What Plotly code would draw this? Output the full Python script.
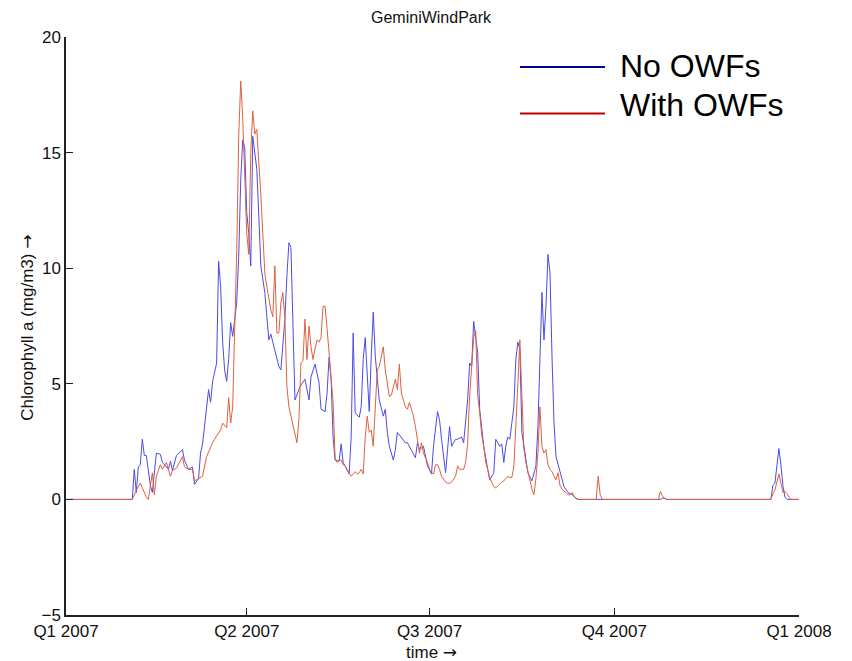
import pandas as pd
import plotly.graph_objects as go

# ---- data (day offset from 2007-01-01, chlorophyll a in mg/m3) ----
blue_days = [
    0, 33, 34, 35, 36, 37, 38, 39, 40, 41,
    42, 43, 45, 47, 48, 51, 52, 53, 55, 58,
    59, 61, 63, 64, 66, 67, 68, 71, 72, 73,
    75, 76, 77, 78, 79, 80, 81, 82, 83, 85,
    86, 87, 88, 89, 90, 91, 92, 93, 94, 95,
    96, 97, 99, 101, 102, 104, 106, 107, 109, 110,
    111, 112, 113, 114, 116, 117, 119, 121, 122, 124,
    126, 127, 129, 130, 131, 132, 133, 134, 136, 137,
    138, 140, 141, 142, 143, 144, 146, 147, 148, 149,
    151, 152, 153, 154, 155, 156, 158, 159, 160, 161,
    163, 164, 165, 167, 169, 170, 172, 174, 175, 176,
    178, 179, 180, 182, 183, 185, 186, 187, 188, 189,
    190, 191, 192, 194, 195, 197, 198, 200, 201, 202,
    203, 204, 205, 206, 208, 210, 211, 213, 214, 216,
    217, 218, 219, 220, 221, 223, 224, 225, 226, 227,
    229, 230, 232, 234, 235, 236, 237, 238, 239, 240,
    241, 242, 243, 244, 246, 248, 250, 252, 254, 255,
    296, 297, 298, 299, 351, 352, 353, 354, 355, 356,
    357, 358, 359, 365]
no_owf = [
    0, 0, 1.3, 0.3, 1.4, 1.5, 2.6, 1.9, 1.9, 1.2,
    0.6, 0.3, 2.0, 1.95, 1.6, 1.3, 1.65, 1.25, 1.9, 2.15,
    1.7, 1.3, 1.4, 0.65, 0.9, 2.0, 2.4, 4.75, 4.2, 5.1,
    5.9, 10.3, 9.2, 6.8, 5.6, 5.1, 6.05, 7.65, 7.05, 8.5,
    10.5, 13.8, 15.55, 15.2, 12.4, 11.5, 10.1, 15.7, 15.0, 14.3,
    12.3, 10.1, 8.95, 6.9, 7.15, 6.5, 5.75, 5.6, 7.8, 9.65,
    11.1, 10.9, 7.05, 4.3, 4.75, 4.95, 5.2, 4.3, 5.3, 5.85,
    5.05, 3.9, 3.8, 4.6, 6.15, 5.2, 2.7, 1.7, 1.65, 2.4,
    1.6, 1.3, 1.1, 2.7, 7.2, 3.75, 3.55, 4.0, 6.05, 7.0,
    3.8, 6.2, 8.1, 6.2, 5.05, 4.3, 3.6, 3.9, 2.9, 2.3,
    1.7, 2.15, 2.9, 2.7, 2.45, 2.45, 2.1, 1.8, 2.45, 2.15,
    2.3, 1.85, 1.45, 1.1, 2.3, 3.8, 3.45, 2.6, 1.85, 1.15,
    2.15, 3.15, 2.3, 2.6, 2.6, 2.7, 2.45, 4.3, 5.9, 5.75,
    7.7, 6.9, 6.35, 3.9, 2.3, 1.3, 0.85, 1.15, 2.6, 2.3,
    2.4, 1.6, 2.3, 2.7, 2.6, 4.0, 6.05, 6.8, 6.5, 2.9,
    1.85, 1.15, 0.8, 1.45, 3.15, 6.0, 8.95, 6.9, 8.35, 10.6,
    9.8, 6.2, 3.3, 1.85, 1.15, 0.55, 0.3, 0.2, 0.05, 0,
    0, 0.05, 0.05, 0, 0, 0.6, 0.7, 1.6, 2.2, 1.5,
    0.6, 0.1, 0, 0]

red_days = [
    0, 33, 35, 37, 38, 40, 41, 43, 44, 45,
    47, 48, 50, 52, 53, 55, 58, 59, 61, 63,
    64, 66, 68, 70, 73, 75, 77, 78, 80, 81,
    82, 83, 84, 85, 86, 87, 88, 89, 90, 91,
    92, 93, 94, 95, 96, 97, 98, 99, 100, 101,
    102, 103, 104, 105, 106, 107, 108, 109, 110, 111,
    112, 113, 114, 115, 116, 117, 118, 119, 120, 121,
    122, 123, 124, 125, 126, 127, 128, 129, 130, 131,
    132, 133, 134, 135, 136, 137, 138, 139, 140, 141,
    142, 143, 144, 145, 146, 147, 148, 149, 150, 151,
    152, 153, 154, 155, 156, 157, 158, 159, 160, 161,
    162, 163, 164, 165, 166, 167, 168, 169, 170, 171,
    172, 173, 174, 175, 176, 177, 178, 179, 180, 181,
    182, 183, 184, 185, 186, 187, 188, 189, 190, 191,
    192, 193, 194, 195, 196, 197, 198, 199, 200, 201,
    202, 203, 204, 205, 206, 207, 208, 209, 210, 211,
    212, 213, 214, 215, 216, 217, 218, 219, 220, 221,
    222, 223, 224, 225, 226, 227, 228, 229, 230, 231,
    232, 233, 234, 235, 236, 237, 238, 239, 240, 241,
    242, 243, 244, 245, 246, 247, 248, 249, 250, 251,
    252, 253, 254, 255, 264, 265, 266, 267, 295, 296,
    297, 298, 299, 351, 352, 353, 354, 355, 356, 357,
    358, 359, 360, 361, 365]
with_owf = [
    0, 0, 0.4, 0.7, 0.5, 0.1, 0, 1.15, 0.2, 1.0,
    1.5, 1.3, 1.6, 1.0, 1.25, 1.35, 1.85, 1.4, 1.3, 1.3,
    0.8, 0.9, 1.0, 1.85, 2.45, 2.75, 3.0, 3.3, 3.1, 4.4,
    3.3, 4.0, 7.5, 10.7, 15.7, 18.1, 16.5, 13.5, 11.5, 10.6,
    15.0, 16.8, 15.8, 16.0, 14.8, 13.2, 11.5, 9.8, 9.2, 8.6,
    8.2, 7.9, 10.1, 7.2, 7.2, 8.5, 8.95, 7.8, 4.9, 4.0,
    3.6, 3.1, 2.7, 2.45, 3.45, 5.9, 6.0, 7.8, 6.05, 7.5,
    6.6, 6.05, 6.5, 6.9, 6.8, 7.0, 8.35, 8.35, 7.4, 6.4,
    5.2, 4.2, 1.8, 1.6, 1.7, 1.7, 1.5, 1.45, 1.3, 1.15,
    1.0, 1.1, 1.2, 1.1, 1.15, 1.3, 1.1, 2.7, 3.6, 2.9,
    3.0, 2.3, 3.75, 5.6, 5.75, 6.2, 6.6, 5.6, 4.9, 4.45,
    4.5, 4.9, 5.2, 4.75, 5.85, 4.6, 4.3, 4.0, 3.9, 4.2,
    3.9, 3.6, 3.15, 2.6, 2.0, 2.45, 2.0, 1.8, 1.6, 1.3,
    1.15, 1.1, 1.5, 1.5, 1.3, 1.0, 0.85, 0.75, 0.7, 0.7,
    0.75, 0.9, 1.0, 1.45, 1.3, 1.3, 1.3, 1.6, 2.4, 4.5,
    6.0, 7.0, 7.3, 4.5, 3.75, 2.8, 2.3, 1.6, 1.3, 0.9,
    0.75, 0.55, 0.5, 0.6, 0.7, 0.75, 0.8, 0.9, 1.0, 0.95,
    0.95, 1.4, 3.0, 5.0, 6.9, 4.5, 2.2, 1.6, 1.2, 0.75,
    0.45, 0.2, 0.9, 2.0, 4.0, 2.3, 2.0, 2.15, 1.5, 1.3,
    1.2, 1.0, 0.85, 1.15, 0.6, 0.45, 0.35, 0.3, 0.2, 0.2,
    0.3, 0.15, 0.03, 0, 0, 1.0, 0.2, 0, 0, 0.35,
    0.15, 0.05, 0, 0, 0.25, 0.4, 0.7, 1.1, 0.7, 0.3,
    0.35, 0.25, 0.1, 0, 0]

tick_dates = ["2007-01-01", "2007-04-01", "2007-07-01", "2007-10-01", "2008-01-01"]
tick_labels = ["Q1 2007", "Q2 2007", "Q3 2007", "Q4 2007", "Q1 2008"]
y_ticks = [-5, 0, 5, 10, 15, 20]
series_names = ["No OWFs", "With OWFs"]

assert len(blue_days) == len(no_owf)
assert len(red_days) == len(with_owf)

start = pd.Timestamp("2007-01-01")
blue_x = start + pd.to_timedelta(blue_days, unit="D")
red_x = start + pd.to_timedelta(red_days, unit="D")

FONT = "Arial, Liberation Sans, sans-serif"
ARROW = '<span style="font-family:DejaVu Sans">\u2192</span>'

fig = go.Figure()
fig.add_trace(go.Scatter(x=blue_x, y=no_owf, mode="lines", name=series_names[0],
                         line=dict(color="#4b4be6", width=1), showlegend=False))
fig.add_trace(go.Scatter(x=red_x, y=with_owf, mode="lines", name=series_names[1],
                         line=dict(color="#e0603f", width=1), showlegend=False))

axis_common = dict(showline=True, linecolor="#222222", linewidth=1.5,
                   ticks="inside", tickcolor="#222222", tickwidth=1.2,
                   showgrid=False, zeroline=False, mirror=False,
                   tickfont=dict(family=FONT, size=17, color="#111111"))
fig.update_xaxes(type="date", range=[tick_dates[0], tick_dates[-1]],
                 tickmode="array", tickvals=tick_dates, ticktext=tick_labels,
                 ticklen=7, **axis_common)
fig.update_yaxes(range=[-5, 20], tickmode="array", tickvals=y_ticks,
                 ticklen=7, **axis_common)

annotations = [
    dict(text="GeminiWindPark", x=0.4993, y=1.0329, xref="paper", yref="paper",
         xanchor="center", yanchor="middle", showarrow=False,
         font=dict(family=FONT, size=16, color="#111111")),
    dict(text="Chlorophyll a (mg/m3) " + ARROW, x=-0.0535, y=0.4965, xref="paper", yref="paper",
         xanchor="center", yanchor="middle", textangle=-90, showarrow=False,
         font=dict(family=FONT, size=17, color="#111111")),
    dict(text="time " + ARROW, x=0.498, y=-0.064, xref="paper", yref="paper",
         xanchor="center", yanchor="middle", showarrow=False,
         font=dict(family=FONT, size=17, color="#111111")),
    dict(text=series_names[0], x=0.7525, y=0.9498, xref="paper", yref="paper",
         xanchor="left", yanchor="middle", showarrow=False,
         font=dict(family=FONT, size=32, color="#000000")),
    dict(text=series_names[1], x=0.7525, y=0.8824, xref="paper", yref="paper",
         xanchor="left", yanchor="middle", showarrow=False,
         font=dict(family=FONT, size=32, color="#000000")),
]
shapes = [
    dict(type="line", xref="paper", yref="paper", x0=0.6194, x1=0.7353, y0=0.948, y1=0.948,
         line=dict(color="#000090", width=2)),
    dict(type="line", xref="paper", yref="paper", x0=0.6194, x1=0.7353, y0=0.8676, y1=0.8676,
         line=dict(color="#c00000", width=2)),
]

# the page places the figure 8px in from the top-left corner, so the
# margins are offset to land the plot area where the reference has it
fig.update_layout(width=852, height=661, margin=dict(l=58, r=61, t=29, b=54),
                  paper_bgcolor="white", plot_bgcolor="white",
                  annotations=annotations, shapes=shapes,
                  font=dict(family=FONT, color="#111111"))

fig.write_html("out.html")
